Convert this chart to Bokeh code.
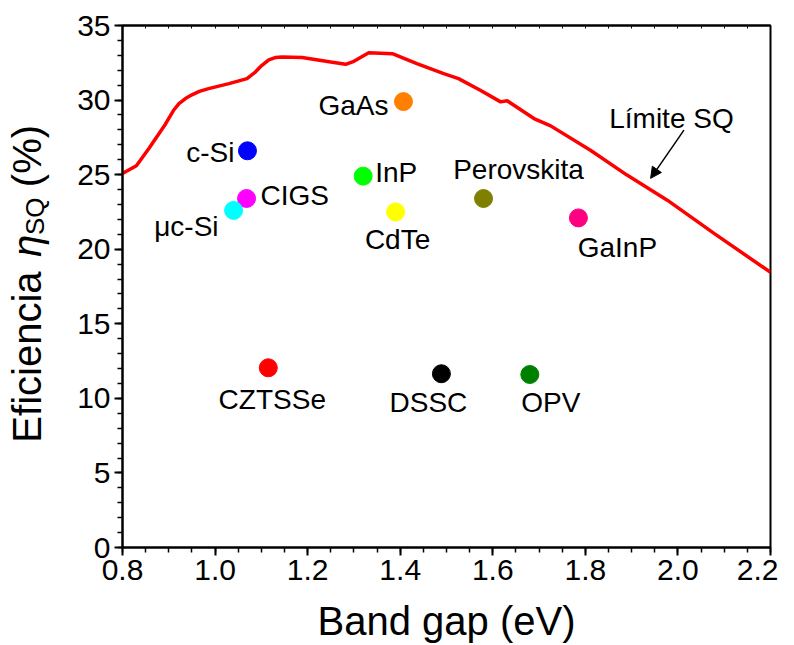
from bokeh.plotting import figure
from bokeh.layouts import row
from bokeh.models import (Range1d, FixedTicker, LinearAxis, Label, Arrow,
                          NormalHead, PrintfTickFormatter, ColumnDataSource)
from bokeh.core.properties import value
from bokeh.embed import file_html
from bokeh.resources import INLINE

FONT = "Liberation Sans"

# Shockley-Queisser limit curve
sq_gap = [0.80, 0.83, 0.857, 0.893, 0.91, 0.922, 0.936, 0.95, 0.966, 0.986, 1.03,
          1.069, 1.087, 1.10, 1.116, 1.13, 1.145, 1.188, 1.25, 1.282, 1.30, 1.332,
          1.383, 1.436, 1.494, 1.526, 1.573, 1.617, 1.631, 1.689, 1.725, 1.811,
          1.89, 1.977, 2.078, 2.2]
sq_eff = [25.08, 25.6, 26.75, 28.4, 29.3, 29.76, 30.1, 30.35, 30.58, 30.77, 31.1,
          31.44, 31.88, 32.3, 32.7, 32.85, 32.89, 32.85, 32.55, 32.4, 32.6, 33.18,
          33.11, 32.44, 31.77, 31.44, 30.66, 29.88, 29.95, 28.76, 28.27, 26.64,
          24.97, 23.29, 21.06, 18.45]

# Technologies
tech_names = ["c-Si", "CIGS", "\u03bcc-Si", "InP", "CdTe", "GaAs",
              "Perovskita", "GaInP", "CZTSSe", "DSSC", "OPV"]
tech_gap = [1.07, 1.068, 1.04, 1.32, 1.39, 1.407, 1.58, 1.785, 1.115, 1.489, 1.68]
tech_eff = [26.6, 23.4, 22.6, 24.9, 22.5, 29.9, 23.4, 22.1, 12.05, 11.65, 11.6]
tech_colors = ["#0000FF", "#FF00FF", "#00FFFF", "#00FF00", "#FFFF00", "#FF8000",
               "#808000", "#FF0080", "#FF0000", "#000000", "#008000"]

x_ticks = [0.8, 1.0, 1.2, 1.4, 1.6, 1.8, 2.0, 2.2]
x_minor = [round(0.8 + 0.05 * i, 2) for i in range(29)]
y_ticks = [0, 5, 10, 15, 20, 25, 30, 35]
y_minor = list(range(0, 36))

x_title = "Band gap (eV)"
y_title_parts = ["Eficiencia", "\u03b7", "SQ", "(%)"]

H = 645
W_T = 60
BT, BB = 25, 97

# ---------- main plot ----------
p = figure(width=718, height=H, x_range=Range1d(0.8, 2.2), y_range=Range1d(0, 35),
           output_backend="svg", toolbar_location=None,
           min_border_left=62, min_border_right=8, min_border_top=BT, min_border_bottom=BB)
p.xgrid.visible = False
p.ygrid.visible = False
p.outline_line_color = "black"
p.outline_line_width = 2
p.background_fill_color = "white"
p.border_fill_color = "white"

for ax in (p.xaxis[0], p.yaxis[0]):
    ax.axis_line_width = 2
    ax.major_tick_line_width = 2
    ax.minor_tick_line_width = 1.5
    ax.major_tick_out = 8
    ax.major_tick_in = 0
    ax.minor_tick_out = 5
    ax.minor_tick_in = 0
    ax.major_label_text_font = FONT
    ax.major_label_text_font_size = "30px"
    ax.major_label_text_color = "black"
    ax.major_label_standoff = 4

p.xaxis[0].ticker = FixedTicker(ticks=x_ticks, minor_ticks=x_minor)
p.xaxis[0].formatter = PrintfTickFormatter(format="%.1f")
p.yaxis[0].ticker = FixedTicker(ticks=y_ticks, minor_ticks=y_minor)
p.xaxis[0].axis_label = x_title
p.xaxis[0].axis_label_text_font = FONT
p.xaxis[0].axis_label_text_font_size = "40px"
p.xaxis[0].axis_label_text_font_style = "normal"
p.xaxis[0].axis_label_text_color = "black"
p.xaxis[0].axis_label_standoff = 16

top = LinearAxis(ticker=FixedTicker(ticks=[], minor_ticks=x_minor),
                 minor_tick_in=3, minor_tick_out=0, major_tick_in=0, major_tick_out=0,
                 axis_line_width=2, minor_tick_line_width=1)
p.add_layout(top, "above")

# SQ curve
p.line(sq_gap, sq_eff, line_color="#FF0000", line_width=3.5)

# technology points
src = ColumnDataSource(dict(x=tech_gap, y=tech_eff, c=tech_colors))
p.scatter("x", "y", source=src, size=18, fill_color="c", line_color="c", marker="circle")

# label placements (screen-pixel offsets from each point)
label_pos = {
    "c-Si": (-13, -2, "right"),
    "CIGS": (14, 3, "left"),
    "\u03bcc-Si": (-15, -16, "right"),
    "InP": (12, 4, "left"),
    "CdTe": (2, -28, "center"),
    "GaAs": (-15, -4, "right"),
    "Perovskita": (35, 29, "center"),
    "GaInP": (39, -30, "center"),
    "CZTSSe": (4, -32, "center"),
    "DSSC": (-13, -29, "center"),
    "OPV": (21, -28, "center"),
}
for name, gx, ey in zip(tech_names, tech_gap, tech_eff):
    dx, dy, al = label_pos[name]
    p.add_layout(Label(x=gx, y=ey, x_offset=dx, y_offset=dy, text=name,
                       text_align=al, text_baseline="middle", text_font=FONT,
                       text_font_size="28px", text_color="black"))

# SQ limit annotation
p.add_layout(Label(x=1.986, y=28.78, text="L\u00edmite SQ", text_align="center",
                   text_baseline="alphabetic", text_font=FONT, text_font_size="28px",
                   text_color="black"))
p.add_layout(Arrow(x_start=2.013, y_start=27.98, x_end=1.941, y_end=24.75,
                   line_width=1.5, line_color="black",
                   end=NormalHead(size=11, fill_color="black", line_color="black")))

# ---------- y-axis title strip (same vertical scale as the main plot) ----------
t = figure(width=W_T, height=H, x_range=Range1d(0, W_T), y_range=Range1d(0, 35),
           output_backend="svg", toolbar_location=None,
           x_axis_location=None, y_axis_location=None,
           min_border_left=0, min_border_right=0, min_border_top=BT, min_border_bottom=BB)
t.xgrid.visible = False
t.ygrid.visible = False
t.outline_line_color = None
t.background_fill_color = "white"
t.border_fill_color = "white"

XB = 26
t.text(x=[XB], y=[7.03], text=[y_title_parts[0]], angle=1.5707963,
       text_align="left", text_baseline="alphabetic", text_font=value(FONT),
       text_font_size="40px", text_color="black")
t.text(x=[XB], y=[19.48], text=[y_title_parts[1]], angle=1.5707963,
       text_align="left", text_baseline="alphabetic", text_font=value(FONT),
       text_font_size="40px", text_font_style="italic", text_color="black")
t.text(x=[XB + 8], y=[20.95], text=[y_title_parts[2]], angle=1.5707963,
       text_align="left", text_baseline="alphabetic", text_font=value(FONT),
       text_font_size="26px", text_color="black")
t.text(x=[XB], y=[24.16], text=[y_title_parts[3]], angle=1.5707963,
       text_align="left", text_baseline="alphabetic", text_font=value(FONT),
       text_font_size="40px", text_color="black")

layout = row(t, p, spacing=0)
open("out.html", "w").write(file_html(layout, INLINE))
